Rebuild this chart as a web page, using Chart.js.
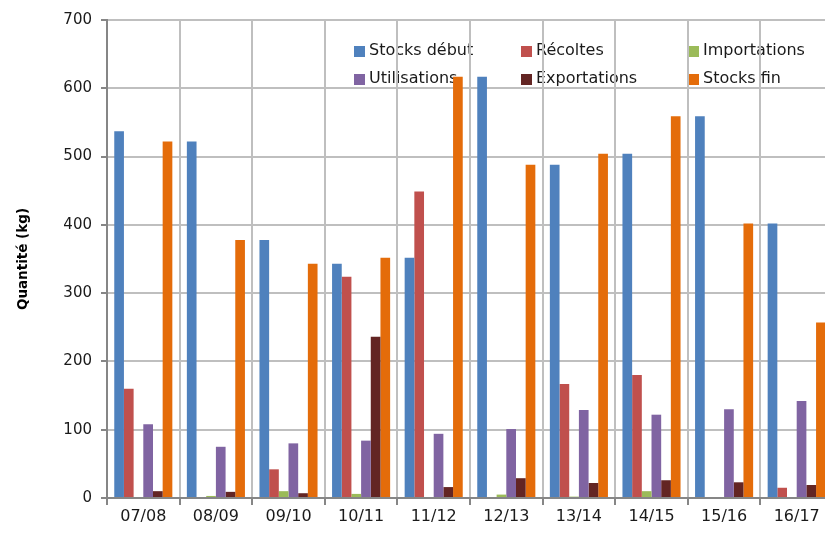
<!DOCTYPE html>
<html>
<head>
<meta charset="utf-8">
<script src="https://cdn.jsdelivr.net/npm/chart.js@4.4.1/dist/chart.umd.min.js"></script>
<style>
  html, body { margin: 0; padding: 0; background: #fff; overflow: hidden; }
  #wrap { width: 840px; height: 533px; }
</style>
</head>
<body>
<div id="wrap"><canvas id="stocks" width="840" height="533"></canvas></div>
<script>
var campagnes = ["07/08", "08/09", "09/10", "10/11", "11/12", "12/13", "13/14", "14/15", "15/16", "16/17"];
var stocksDebut = [537, 522, 378, 343, 352, 617, 488, 504, 559, 402];
var recoltes = [160, 0, 42, 324, 449, 0, 167, 180, 0, 15];
var importations = [0, 3, 10, 6, 0, 5, 2, 10, 0, 0];
var utilisations = [108, 75, 80, 84, 94, 101, 129, 122, 130, 142];
var exportations = [10, 9, 7, 236, 16, 29, 22, 26, 23, 19];
var stocksFin = [522, 378, 343, 352, 617, 488, 504, 559, 402, 257];
var yTicks = [0, 100, 200, 300, 400, 500, 600, 700];

var colors = ["#4F81BD", "#C0504D", "#9BBB59", "#8064A2", "#632523", "#E46C0A"];
var FONT = '"DejaVu Sans", "Liberation Sans", sans-serif';

// legend inside the plot, 3 columns x 2 rows, drawn under the grid
var insideLegend = {
  id: "insideLegend",
  beforeDraw: function (chart) {
    var ctx = chart.ctx,
      cols = [354, 521, 688],
      rows = [51, 79];
    ctx.save();
    ctx.font = "16px " + FONT;
    ctx.textBaseline = "middle";
    ctx.textAlign = "left";
    chart.data.datasets.forEach(function (ds, i) {
      var x = cols[i % 3],
        y = rows[Math.floor(i / 3)];
      ctx.fillStyle = ds.backgroundColor;
      ctx.fillRect(x, y - 5, 11, 11);
      ctx.fillStyle = "#1a1a1a";
      ctx.fillText(ds.label, x + 15, y);
    });
    ctx.restore();
  },
};

function serie(label, data, i) {
  return { label: label, data: data, backgroundColor: colors[i], borderWidth: 0 };
}

new Chart(document.getElementById("stocks").getContext("2d"), {
  type: "bar",
  data: {
    labels: campagnes,
    datasets: [
      serie("Stocks début", stocksDebut, 0),
      serie("Récoltes", recoltes, 1),
      serie("Importations", importations, 2),
      serie("Utilisations", utilisations, 3),
      serie("Exportations", exportations, 4),
      serie("Stocks fin", stocksFin, 5),
    ],
  },
  options: {
    responsive: false,
    animation: false,
    layout: { padding: { left: 0, top: 20, right: 7, bottom: 0 } },
    datasets: { bar: { categoryPercentage: 0.8, barPercentage: 1.0 } },
    plugins: { legend: { display: false }, tooltip: { enabled: false } },
    scales: {
      x: {
        offset: true,
        grid: { offset: true, color: "#BFBFBF", lineWidth: 2, tickLength: 7, tickColor: "#868686" },
        border: { color: "#868686", width: 2 },
        ticks: { color: "#1a1a1a", font: { family: FONT, size: 16 }, maxRotation: 0, autoSkip: false, padding: 2 },
        afterFit: function (s) { s.height = 35; },
      },
      y: {
        min: 0,
        max: 700,
        afterBuildTicks: function (s) { s.ticks = yTicks.map(function (v) { return { value: v }; }); },
        grid: { color: "#BFBFBF", lineWidth: 2, tickLength: 6, tickColor: "#868686" },
        border: { color: "#868686", width: 2 },
        ticks: { color: "#1a1a1a", font: { family: FONT, size: 15 }, padding: 9 },
        title: {
          display: true,
          text: "Quantité (kg)",
          color: "#000",
          font: { family: FONT, size: 13.5, weight: "bold" },
          padding: { top: 15, bottom: 0 },
        },
        afterFit: function (s) { s.width = 107; },
      },
    },
  },
  plugins: [insideLegend],
});
</script>
</body>
</html>
